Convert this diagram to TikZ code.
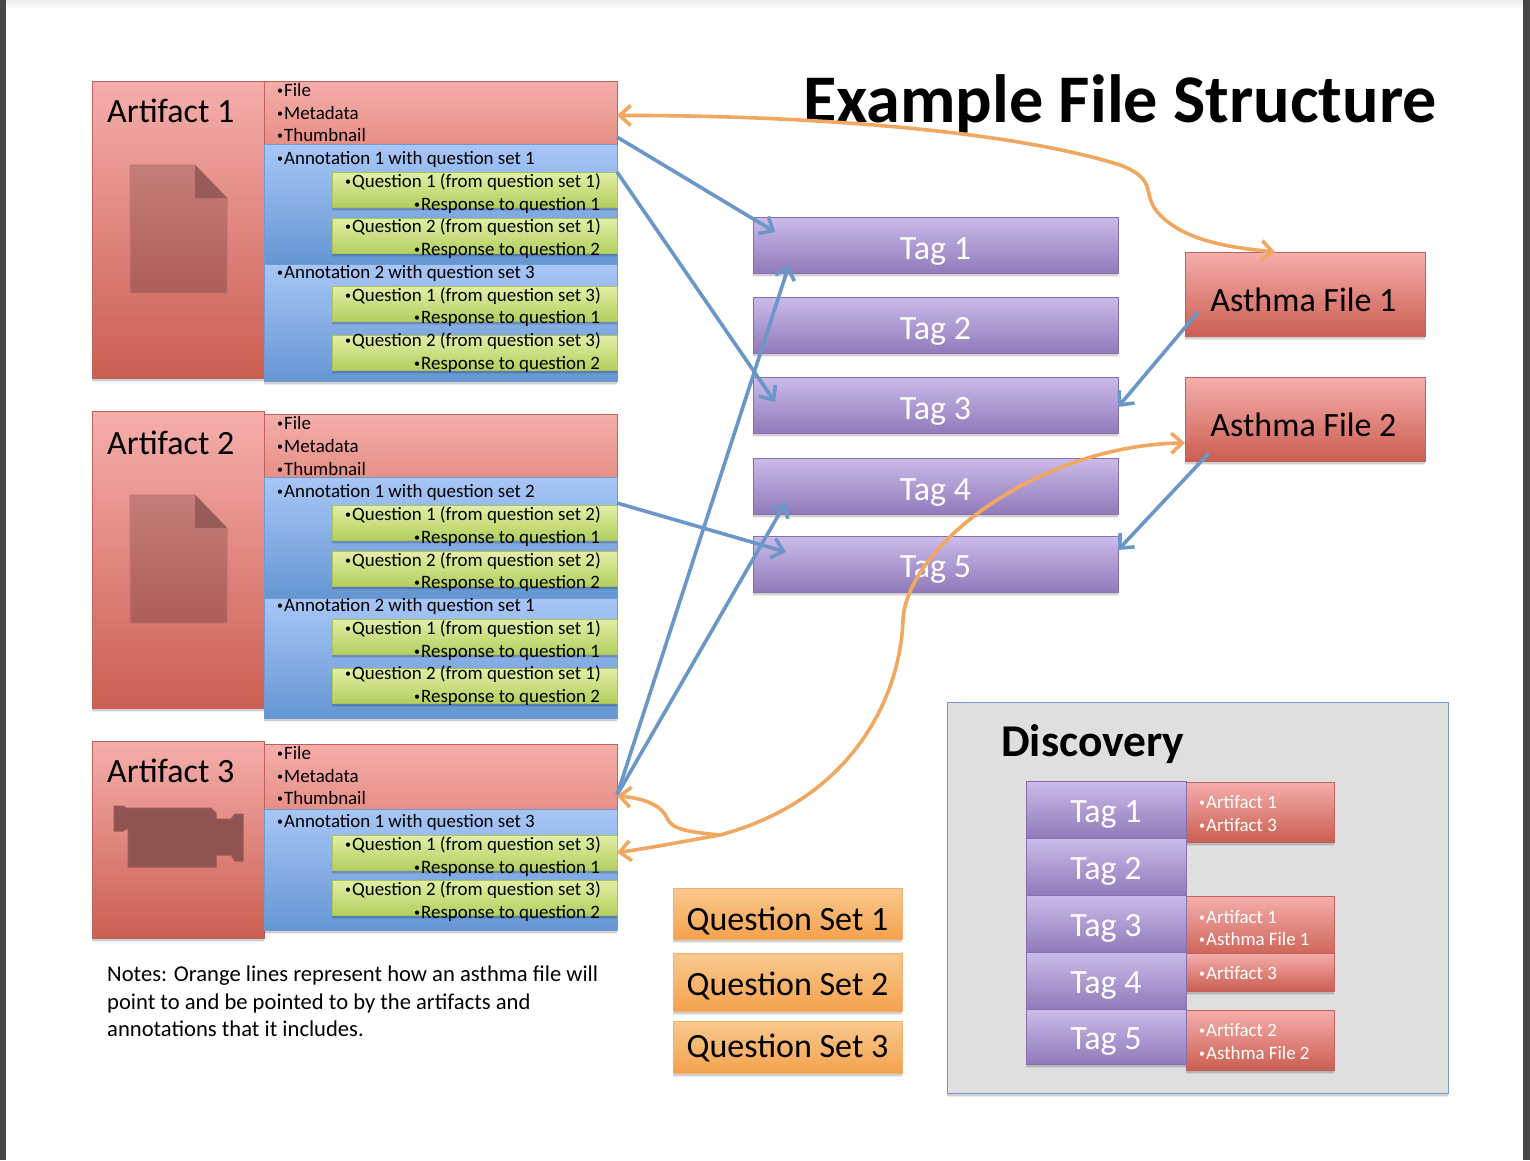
\documentclass[tikz,border=0pt]{standalone}
\usepackage{fontspec}
\setmainfont{Carlito}
\usetikzlibrary{shadows,arrows.meta,calc}
\definecolor{redT}{HTML}{F5AEAB}\definecolor{redB}{HTML}{CB5E52}\definecolor{redL}{HTML}{C0615C}
\definecolor{metaB}{HTML}{E68F86}
\definecolor{bluT}{HTML}{A8C6F6}\definecolor{bluB}{HTML}{6496D3}\definecolor{bluL}{HTML}{6F9BD0}
\definecolor{grnT}{HTML}{E2EFA6}\definecolor{grnB}{HTML}{B3CF5F}\definecolor{grnL}{HTML}{A9C45E}
\definecolor{purT}{HTML}{CBBBEA}\definecolor{purB}{HTML}{917ABA}\definecolor{purL}{HTML}{8670AC}
\definecolor{ornT}{HTML}{F9C98F}\definecolor{ornB}{HTML}{F4A24E}\definecolor{ornL}{HTML}{F0B070}
\definecolor{arrB}{HTML}{6A97C8}\definecolor{arrO}{HTML}{F0A860}
\definecolor{docT}{HTML}{C47D78}\definecolor{docB}{HTML}{AD5D58}\definecolor{docF}{HTML}{975B59}\definecolor{cam}{HTML}{8F5452}
\tikzset{
 softsh/.style={general shadow={shadow xshift=0pt,shadow yshift=-4pt,fill=black,opacity=.07},
   general shadow={shadow xshift=0pt,shadow yshift=-2.5pt,fill=black,opacity=.12},
   general shadow={shadow xshift=0pt,shadow yshift=-1pt,fill=black,opacity=.18}},
 boxbase/.style={rectangle,inner sep=0pt,outer sep=0pt,line width=1pt,softsh},
 redbox/.style={boxbase,draw=redL,top color=redT,bottom color=redB},
 metabox/.style={boxbase,draw=redL,top color=redT,bottom color=metaB},
 blubox/.style={boxbase,draw=bluL,top color=bluT,bottom color=bluB},
 grnbox/.style={boxbase,draw=grnL,top color=grnT,bottom color=grnB},
 purbox/.style={boxbase,draw=purL,top color=purT,bottom color=purB},
 ornbox/.style={boxbase,draw=ornL,top color=ornT,bottom color=ornB},
 small/.style={anchor=base west,inner sep=0pt,font=\fontsize{18.9}{18.9}\selectfont},
 big/.style={anchor=base west,inner sep=0pt,font=\fontsize{34}{34}\selectfont},
 boxlab/.style={inner sep=0pt,font=\fontsize{34}{34}\selectfont},
 blink/.style={draw=arrB,line width=3.6pt,-{Straight Barb[length=11pt,width=20pt]}},
 olink/.style={draw=arrO,line width=3.6pt,-{Straight Barb[length=11pt,width=20pt]}},
 odlink/.style={draw=arrO,line width=3.6pt,{Straight Barb[length=11pt,width=20pt]}-{Straight Barb[length=11pt,width=20pt]}},
}
\newcommand\bx[6]{\node[#6,minimum width={(#4-#2)*1pt},minimum height={(#5-#3)*1pt}] (#1) at ({(#2+#4)/2},{(#3+#5)/2}) {};}
% box with a label set below its centre: name,x1,y1,x2,y2,style,text,drop
\newcommand\bxt[8]{\bx{#1}{#2}{#3}{#4}{#5}{#6}\node[boxlab] (#1lab) at ([yshift=-#8pt]#1.center) {#7};}
\newcommand\bxw[8]{\bx{#1}{#2}{#3}{#4}{#5}{#6}\node[boxlab,text=white] (#1lab) at ([yshift=-#8pt]#1.center) {#7};}
\newcommand\bul{{\fontsize{12}{12}\selectfont\raisebox{1.5pt}{•}\kern1pt}}
\newcommand\tx[3]{\node[small] at (#1,#2) {\bul #3};}
\newcommand\docicon[1]{%
 \shade[top color=docT,bottom color=docB,draw=docT!70!redL,line width=1pt] (130,#1) -- (195,#1) -- (227,{#1+33}) -- (227,{#1+128}) -- (130,{#1+128}) -- cycle;
 \fill[docF] (195,#1) -- (227,{#1+33}) -- (195,{#1+33}) -- cycle;}
\begin{document}
\begin{tikzpicture}[x=1pt,y=-1pt]
\useasboundingbox (0,0) rectangle (1530,1160);
\fill[white] (0,0) rectangle (1530,1160);
\shade[top color=black!7,bottom color=white] (6,0) rectangle (1523,9);
\fill[black!72] (0,0) rectangle (6,1160);
\fill[black!72] (1523,0) rectangle (1530,1160);
% Artifact 1
\bx{art1}{92}{81}{264}{378}{redbox}
\bx{meta1}{264}{81}{617}{144}{metabox}
\bx{ann11}{264}{144}{617}{264}{blubox}
\bx{ann12}{264}{264}{617}{381}{blubox}
\bx{q111}{332}{172}{617}{207}{grnbox}
\bx{q112}{332}{218}{617}{253}{grnbox}
\bx{q121}{332}{286}{617}{321}{grnbox}
\bx{q122}{332}{335}{617}{370}{grnbox}
\node[big] at (107,122) {Artifact 1};
\docicon{165}
\tx{277}{96}{File}\tx{277}{119}{Metadata}\tx{277}{141}{Thumbnail}
\tx{277}{164}{Annotation 1 with question set 1}
\tx{345}{187}{Question 1 (from question set 1)}\tx{414}{210}{Response to question 1}
\tx{345}{232}{Question 2 (from question set 1)}\tx{414}{255}{Response to question 2}
\tx{277}{278}{Annotation 2 with question set 3}
\tx{345}{301}{Question 1 (from question set 3)}\tx{414}{323}{Response to question 1}
\tx{345}{346}{Question 2 (from question set 3)}\tx{414}{369}{Response to question 2}
% Artifact 2
\bx{art2}{92}{411}{264}{708}{redbox}
\bx{meta2}{264}{414}{617}{477}{metabox}
\bx{ann21}{264}{477}{617}{598}{blubox}
\bx{ann22}{264}{598}{617}{718}{blubox}
\bx{q211}{332}{505}{617}{540}{grnbox}
\bx{q212}{332}{551}{617}{586}{grnbox}
\bx{q221}{332}{619}{617}{654}{grnbox}
\bx{q222}{332}{668}{617}{703}{grnbox}
\node[big] at (107,454) {Artifact 2};
\docicon{495}
\tx{277}{429}{File}\tx{277}{452}{Metadata}\tx{277}{475}{Thumbnail}
\tx{277}{497}{Annotation 1 with question set 2}
\tx{345}{520}{Question 1 (from question set 2)}\tx{414}{543}{Response to question 1}
\tx{345}{566}{Question 2 (from question set 2)}\tx{414}{588}{Response to question 2}
\tx{277}{611}{Annotation 2 with question set 1}
\tx{345}{634}{Question 1 (from question set 1)}\tx{414}{657}{Response to question 1}
\tx{345}{679}{Question 2 (from question set 1)}\tx{414}{702}{Response to question 2}
% Artifact 3
\bx{art3}{92}{741}{264}{938}{redbox}
\bx{meta3}{264}{744}{617}{809}{metabox}
\bx{ann31}{264}{809}{617}{930}{blubox}
\bx{q311}{332}{835}{617}{870}{grnbox}
\bx{q312}{332}{880}{617}{915}{grnbox}
\node[big] at (107,782) {Artifact 3};
\filldraw[fill=cam,draw=cam!70!redB,line width=1pt] (114,806) -- (123,806) -- (126,808) -- (211,808) -- (216,813) -- (216,819) -- (231,819) -- (235,814) -- (243,814) -- (243,861) -- (235,861) -- (231,855) -- (216,855) -- (216,867) -- (128,867) -- (128,828) -- (123,831) -- (114,831) -- cycle;
\tx{277}{759}{File}\tx{277}{782}{Metadata}\tx{277}{804}{Thumbnail}
\tx{277}{827}{Annotation 1 with question set 3}
\tx{345}{850}{Question 1 (from question set 3)}\tx{414}{873}{Response to question 1}
\tx{345}{895}{Question 2 (from question set 3)}\tx{414}{918}{Response to question 2}
% Notes
\node[anchor=north west,inner sep=0pt,align=left,font=\fontsize{22.6}{27.5}\selectfont] (notes) at (107,966) {Notes: Orange lines represent how an asthma file will\\point to and be pointed to by the artifacts and\\annotations that it includes.};
% Title
\node[anchor=base west,inner sep=0pt,font=\fontsize{68.2}{68}\bfseries\selectfont] (title) at (803,122) {Example File Structure};
% Tags
\bxw{tag1}{753}{217}{1118}{273}{purbox}{Tag 1}{6}
\bxw{tag2}{753}{297}{1118}{353}{purbox}{Tag 2}{6}
\bxw{tag3}{753}{377}{1118}{433}{purbox}{Tag 3}{6}
\bxw{tag4}{753}{458}{1118}{514}{purbox}{Tag 4}{6}
\bxw{tag5}{753}{536}{1118}{592}{purbox}{Tag 5}{6}
% Asthma
\bxt{af1}{1185}{252}{1425}{336}{redbox}{\hspace*{-3pt}Asthma File 1}{6}
\bxt{af2}{1185}{377}{1425}{461}{redbox}{\hspace*{-3pt}Asthma File 2}{6}
% Question sets
\bxt{qs1}{673}{888}{902}{939}{ornbox}{Question Set 1}{7}
\bxt{qs2}{673}{953}{902}{1011}{ornbox}{Question Set 2}{4}
\bxt{qs3}{673}{1021}{902}{1073}{ornbox}{Question Set 3}{1}
% Discovery
\bx{disc}{947}{702}{1448}{1093}{boxbase,draw=bluL,fill=black!12.5}
\node[anchor=base west,inner sep=0pt,font=\fontsize{45.5}{45}\bfseries\selectfont] (disct) at (1001,756) {Discovery};
\bx{d1}{1186}{782}{1334}{842}{redbox}
\bx{d3}{1186}{896}{1334}{960}{redbox}
\bx{d4}{1186}{953}{1334}{991}{redbox}
\bx{d5}{1186}{1010}{1334}{1070}{redbox}
\bxw{dt1}{1026}{781}{1186}{838}{purbox}{Tag 1}{5}
\bxw{dt2}{1026}{838}{1186}{895}{purbox}{Tag 2}{5}
\bxw{dt3}{1026}{895}{1186}{952}{purbox}{Tag 3}{5}
\bxw{dt4}{1026}{952}{1186}{1009}{purbox}{Tag 4}{5}
\bxw{dt5}{1026}{1009}{1186}{1064}{purbox}{Tag 5}{5}
\begin{scope}[small/.append style={text=white}]
\tx{1199}{808}{Artifact 1}\tx{1199}{831}{Artifact 3}
\tx{1199}{923}{Artifact 1}\tx{1199}{945}{Asthma File 1}
\tx{1199}{979}{Artifact 3}
\tx{1199}{1036}{Artifact 2}\tx{1199}{1059}{Asthma File 2}
\end{scope}
% Blue connectors
\draw[blink] ([yshift=7pt]meta1.south east) -- ([shift={(22,15)}]tag1.north west);
\draw[blink] (q111.north east) -- ([shift={(22,25)}]tag3.north west);
\draw[blink] ([yshift=14pt]meta3.south east) -- ([shift={(36,-8)}]tag1.south west);
\draw[blink] ([yshift=14pt]meta3.south east) -- ([shift={(33,-12)}]tag4.south west);
\draw[blink] ([yshift=-26pt]ann21.north east) -- ([shift={(33,16)}]tag5.north west);
\draw[blink] ([shift={(13,-24)}]af1.south west) -- ([yshift=-2pt]tag3.east);
\draw[blink] ([shift={(24,-8)}]af2.south west) -- ([yshift=14pt]tag5.east);
% Orange connectors
\draw[odlink] ([yshift=-3pt]meta1.east) .. controls (800,115) and (1010,130) .. (1120,165) .. controls (1160,180) and (1140,195) .. (1160,215) .. controls (1185,240) and (1225,247) .. ([xshift=-30pt]af1.north);
\coordinate (junc) at (720,835);
\draw[olink] (junc) .. controls (850,800) and (900,700) .. (903,620) .. controls (907,545) and (1040,445) .. ([yshift=-24pt]af2.west);
\draw[olink] (junc) .. controls (680,842) and (650,848) .. (q311.east);
\draw[olink] (junc) .. controls (690,832) and (672,830) .. (667,818) .. controls (660,803) and (640,798) .. ([yshift=13pt]meta3.south east);
\end{tikzpicture}
\end{document}
